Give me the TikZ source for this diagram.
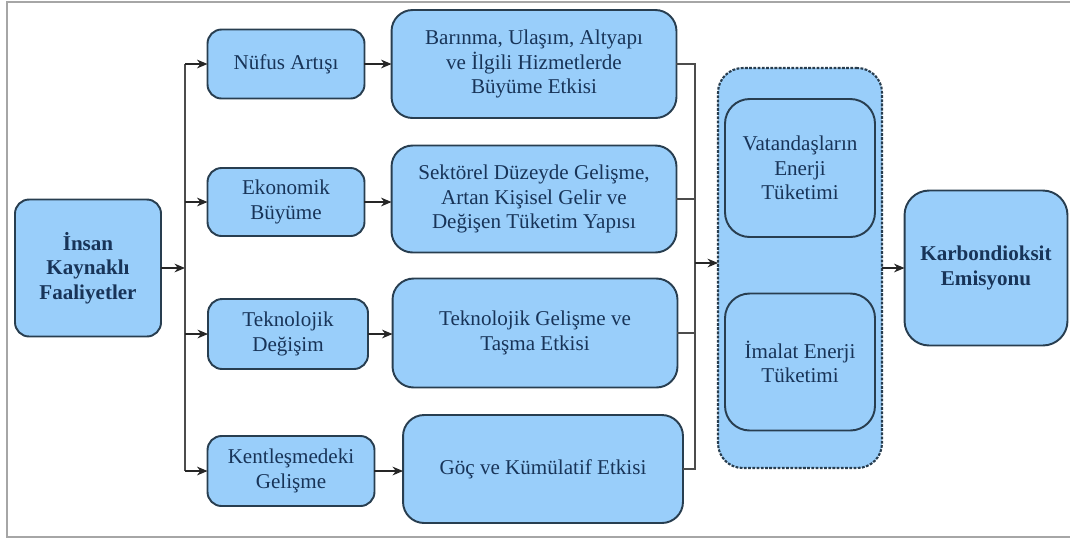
\documentclass[tikz,border=0pt]{standalone}
\usepackage{fontspec}
\setmainfont{LiberationSerif}[Extension=.ttf, UprightFont=*-Regular, BoldFont=*-Bold]
\usetikzlibrary{arrows.meta}
\definecolor{boxfill}{RGB}{153,206,250}
\definecolor{boxline}{RGB}{40,62,80}
\definecolor{boxtext}{RGB}{24,52,88}

\begin{document}
\begin{tikzpicture}[x=0.02cm, y=-0.02cm,
	kutu/.style={draw=boxline, fill=boxfill, line width=1.1pt, rounded corners=8pt,
		align=center, inner sep=0pt, outer sep=0pt, text=boxtext,
		font=\fontsize{12}{14}\selectfont},
	kalin/.style={kutu, font=\fontsize{12}{14}\selectfont\bfseries},
	grup/.style={draw=boxline, fill=boxfill, line width=1.2pt, dash pattern=on 1.6pt off 0.8pt,
		rounded corners=14pt, inner sep=0pt, outer sep=0pt},
	ok/.style={-{Stealth[length=6pt,width=5pt]}, line width=0.7pt, black!85},
	hat/.style={line width=0.6pt, black!70}]
		%%%%% START %%%%%
		
		\useasboundingbox (0, 0) rectangle (1070, 539);
		\draw[line width=1pt, color=black!35] (1070, 2) -- (7, 2) -- (7, 537) -- (1070, 537);
		
		\node[kalin, minimum width=2.92cm, minimum height=2.74cm] (insan) at (88, 268) {İnsan\\Kaynaklı\\Faaliyetler};
		
		\node[kutu, minimum width=3.14cm, minimum height=1.38cm] (nufus) at (286, 64) {Nüfus Artışı};
		\node[kutu, minimum width=3.14cm, minimum height=1.36cm] (ekonomi) at (286, 202) {Ekonomik\\Büyüme};
		\node[kutu, minimum width=3.2cm, minimum height=1.4cm] (teknoloji) at (288, 334) {Teknolojik\\Değişim};
		\node[kutu, minimum width=3.34cm, minimum height=1.4cm] (kent) at (291, 471) {Kentleşmedeki\\Gelişme};
		
		\node[kutu, rounded corners=12pt, minimum width=5.7cm, minimum height=2.16cm] (barinma) at (534, 64) {Barınma, Ulaşım, Altyapı\\ve İlgili Hizmetlerde\\Büyüme Etkisi};
		\node[kutu, rounded corners=12pt, minimum width=5.7cm, minimum height=2.14cm] (sektor) at (534, 199) {Sektörel Düzeyde Gelişme,\\Artan Kişisel Gelir ve\\Değişen Tüketim Yapısı};
		\node[kutu, rounded corners=12pt, minimum width=5.7cm, minimum height=2.18cm] (gelisme) at (535, 333) {Teknolojik Gelişme ve\\Taşma Etkisi};
		\node[kutu, rounded corners=12pt, minimum width=5.6cm, minimum height=2.16cm] (goc) at (543, 469) {Göç ve Kümülatif Etkisi};
		
		\node[grup, minimum width=3.28cm, minimum height=8cm] (tuketim) at (800, 268) {};
		\node[kutu, rounded corners=14pt, minimum width=3cm, minimum height=2.76cm] (vatandas) at (800, 168) {Vatandaşların\\Enerji\\Tüketimi};
		\node[kutu, rounded corners=14pt, minimum width=3cm, minimum height=2.74cm] (imalat) at (800, 362) {İmalat Enerji\\Tüketimi};
		
		\node[kalin, rounded corners=14pt, minimum width=3.26cm, minimum height=3.1cm] (karbon) at (986, 268) {Karbondioksit\\Emisyonu};
		
		% dallanma
		\coordinate (govde) at (185, 268);
		\draw[ok] (insan.east |- govde) -- (govde);
		\draw[hat] (govde |- nufus) -- (govde |- kent);
		\foreach \n in {nufus, ekonomi, teknoloji, kent}
			\draw[ok] (govde |- \n) -- (\n.west);
		
		\draw[ok] (nufus.east) -- (barinma.west |- nufus.east);
		\draw[ok] (ekonomi.east) -- (sektor.west |- ekonomi.east);
		\draw[ok] (teknoloji.east) -- (gelisme.west |- teknoloji.east);
		\draw[ok] (kent.east) -- (goc.west |- kent.east);
		
		% toplama
		\coordinate (topla) at (695, 263);
		\foreach \n in {barinma, sektor, gelisme, goc}
			\draw[hat] (\n.east) -| (topla);
		\draw[ok] (topla) -- (tuketim.west |- topla);
		
		\draw[ok] (tuketim.east |- karbon) -- (karbon.west);
		
		%%%%% END %%%%%
	\end{tikzpicture}
\end{document}
